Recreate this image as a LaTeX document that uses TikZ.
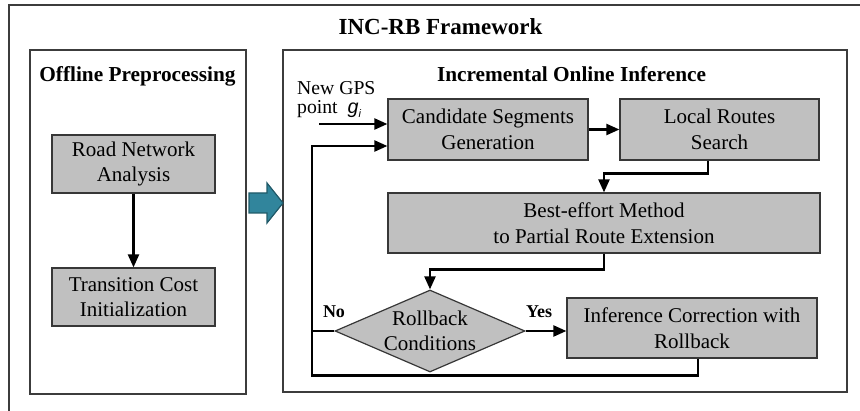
\documentclass[tikz,border=0pt]{standalone}
\usepackage{fontspec}
\setmainfont{Liberation Serif}
\newfontfamily\gfont{Liberation Sans}
\usetikzlibrary{arrows.meta,shapes.geometric}
\definecolor{boxgray}{RGB}{192,192,192}
\definecolor{boxline}{RGB}{55,55,55}
\definecolor{frameline}{RGB}{60,60,60}
\definecolor{tealfill}{RGB}{49,133,156}
\definecolor{tealline}{RGB}{33,90,105}
\begin{document}
\begin{tikzpicture}[x=1pt,y=-1pt,
  box/.style={draw=boxline, line width=1.2pt, fill=boxgray, inner sep=0pt, align=center,
    font=\fontsize{21}{25.5}\selectfont},
  frame/.style={draw=frameline, line width=1.4pt},
  conn/.style={line width=2.2pt, -{Triangle[length=13pt,width=11pt]}},
  plainline/.style={line width=2.2pt},
  ttl/.style={inner sep=0pt, anchor=base, font=\bfseries\fontsize{21.3}{25}\selectfont},
  lbl/.style={inner sep=0pt, anchor=base west, font=\fontsize{19.7}{23}\selectfont},
  yn/.style={inner sep=0pt, anchor=base, font=\bfseries\fontsize{18}{21}\selectfont}]
\useasboundingbox (0,0) rectangle (860,411);
% outer frame
\draw[frame] (9,411) -- (9,5) -- (860,5);
\node[ttl, font=\bfseries\fontsize{23}{27}\selectfont] (title) at (440.5,35) {INC-RB Framework};
% panels
\draw[frame] (30,50) rectangle (246,394);
\draw[frame] (283,50) rectangle (847,392);
\node[ttl] (offt) at (137.5,82) {Offline Preprocessing};
\node[ttl] (ont) at (571.5,82) {Incremental Online Inference};
% teal arrow
\draw[fill=tealfill, draw=tealline, line width=1.2pt, line join=miter]
  (249,193) -- (267,193) -- (267,183) -- (283,203) -- (267,223) -- (267,213) -- (249,213) -- cycle;
% offline boxes
\node[box, minimum width=163pt, minimum height=58pt] (road) at (133.5,164) {Road Network\\Analysis};
\node[box, minimum width=163pt, minimum height=58pt] (trans) at (133.5,297) {Transition Cost\\Initialization};
\draw[conn] (road.south) -- (trans.north);
% online boxes
\node[box, minimum width=200pt, minimum height=61pt] (cand) at (488,129.5) {Candidate Segments\\Generation};
\node[box, minimum width=199pt, minimum height=61pt] (local) at (719.5,129.5) {Local Routes\\Search};
\node[box, minimum width=432pt, minimum height=60pt] (best) at (604,223) {Best-effort Method\\to Partial Route Extension};
\node[box, minimum width=250pt, minimum height=60pt] (infer) at (692,328) {Inference Correction with\\Rollback};
\node[diamond, draw=boxline, line width=1.2pt, fill=boxgray, inner sep=0pt,
  minimum width=190pt, minimum height=82pt] (dia) at (430,331) {};
\node[align=center, inner sep=0pt, font=\fontsize{21}{25.5}\selectfont] (diatext) at (dia.center) {Rollback\\Conditions};
% labels
\node[lbl] (gps1) at (297,95) {New GPS};
\node[lbl] (gps2) at (297,114) {point\ \ {\gfont\itshape g}\raisebox{-4pt}{\gfont\itshape\fontsize{11}{11}\selectfont i}};
\node[yn] (no) at (334,318) {No};
\node[yn] (yes) at (539,318) {Yes};
% connectors
\coordinate (gpsin) at (319,124);
\coordinate (loopc) at (312,146);
\draw[conn] (gpsin) -- (gpsin -| cand.west);
\draw[conn] (cand.east) -- (local.west);
\draw[conn] ([xshift=-11.5pt]local.south) -- ++(0,13) -| (best.north);
\draw[conn] (best.south) -- ++(0,16) -| (dia.north);
\draw[conn] (dia.east) -- (dia.east -| infer.west);
\draw[plainline] (dia.west) -- (dia.west -| loopc);
\draw[conn, line join=miter] ([xshift=6pt]infer.south) -- ++(0,17) -| (loopc) -- (loopc -| cand.west);
\end{tikzpicture}
\end{document}
